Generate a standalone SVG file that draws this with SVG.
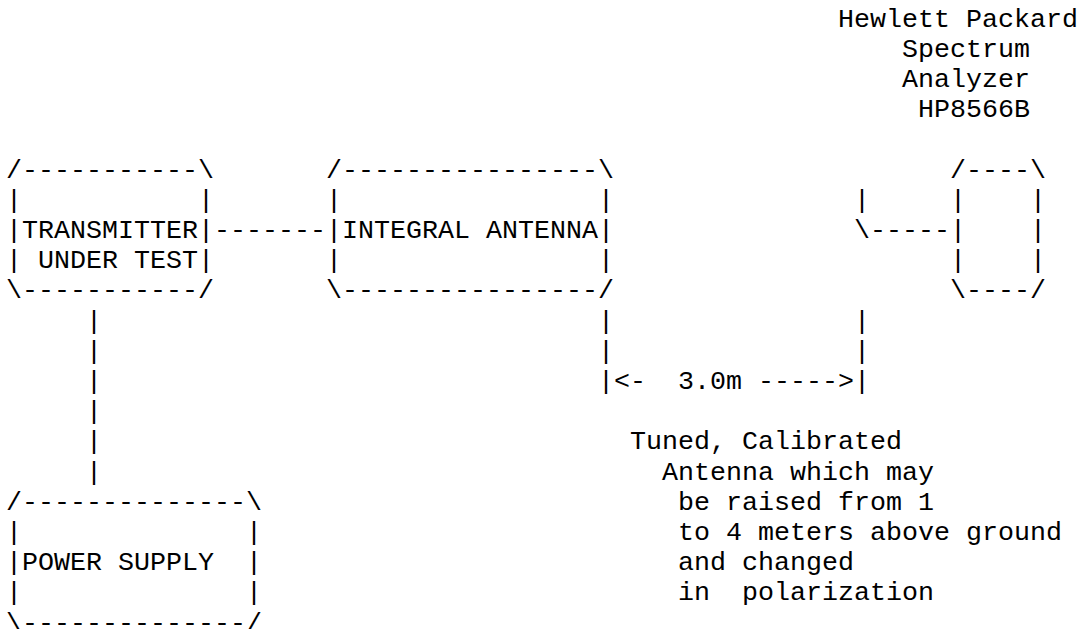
<svg xmlns="http://www.w3.org/2000/svg" width="1086" height="629" viewBox="0 0 1086 629" xml:space="preserve">
<style>
text { font-family: "Liberation Mono", "Courier New", monospace; font-size: 26.67px; fill: #000; white-space: pre; }
</style>
<rect width="1086" height="629" fill="#fff"/>
<g id="spectrum-analyzer">
<text x="838" y="26.5">Hewlett Packard</text>
<text x="902" y="56.7">Spectrum</text>
<text x="902" y="86.9">Analyzer</text>
<text x="918" y="117.1">HP8566B</text>
<text x="950" y="177.5">/----\</text>
<text x="950" y="207.7">|    |</text>
<text x="950" y="237.9">|    |</text>
<text x="950" y="268.1">|    |</text>
<text x="950" y="298.3">\----/</text>
</g>
<g id="transmitter">
<text x="6" y="177.5">/-----------\</text>
<text x="6" y="207.7">|           |</text>
<text x="6" y="237.9">|TRANSMITTER|</text>
<text x="6" y="268.1">| UNDER TEST|</text>
<text x="6" y="298.3">\-----------/</text>
</g>
<g id="integral-antenna">
<text x="326" y="177.5">/----------------\</text>
<text x="326" y="207.7">|                |</text>
<text x="326" y="237.9">|INTEGRAL ANTENNA|</text>
<text x="326" y="268.1">|                |</text>
<text x="326" y="298.3">\----------------/</text>
</g>
<g id="power-supply">
<text x="6" y="509.7">/--------------\</text>
<text x="6" y="539.9">|              |</text>
<text x="6" y="570.1">|POWER SUPPLY  |</text>
<text x="6" y="600.3">|              |</text>
<text x="6" y="630.5">\--------------/</text>
</g>
<g id="test-antenna">
<text x="854" y="207.7">|</text>
<text x="854" y="237.9">\</text>
<text x="630" y="449.3">Tuned, Calibrated</text>
<text x="662" y="479.5">Antenna which may</text>
<text x="678" y="509.7">be raised from 1</text>
<text x="678" y="539.9">to 4 meters above ground</text>
<text x="678" y="570.1">and changed</text>
<text x="678" y="600.3">in  polarization</text>
</g>
<g id="connectors">
<text x="214" y="237.9">-------</text>
<text x="870" y="237.9">-----</text>
<text x="86" y="328.5">|</text>
<text x="86" y="358.7">|</text>
<text x="86" y="388.9">|</text>
<text x="86" y="419.1">|</text>
<text x="86" y="449.3">|</text>
<text x="86" y="479.5">|</text>
<text x="598" y="328.5">|               |</text>
<text x="598" y="358.7">|               |</text>
<text x="598" y="388.9">|&lt;-  3.0m -----&gt;|</text>
</g>
</svg>
